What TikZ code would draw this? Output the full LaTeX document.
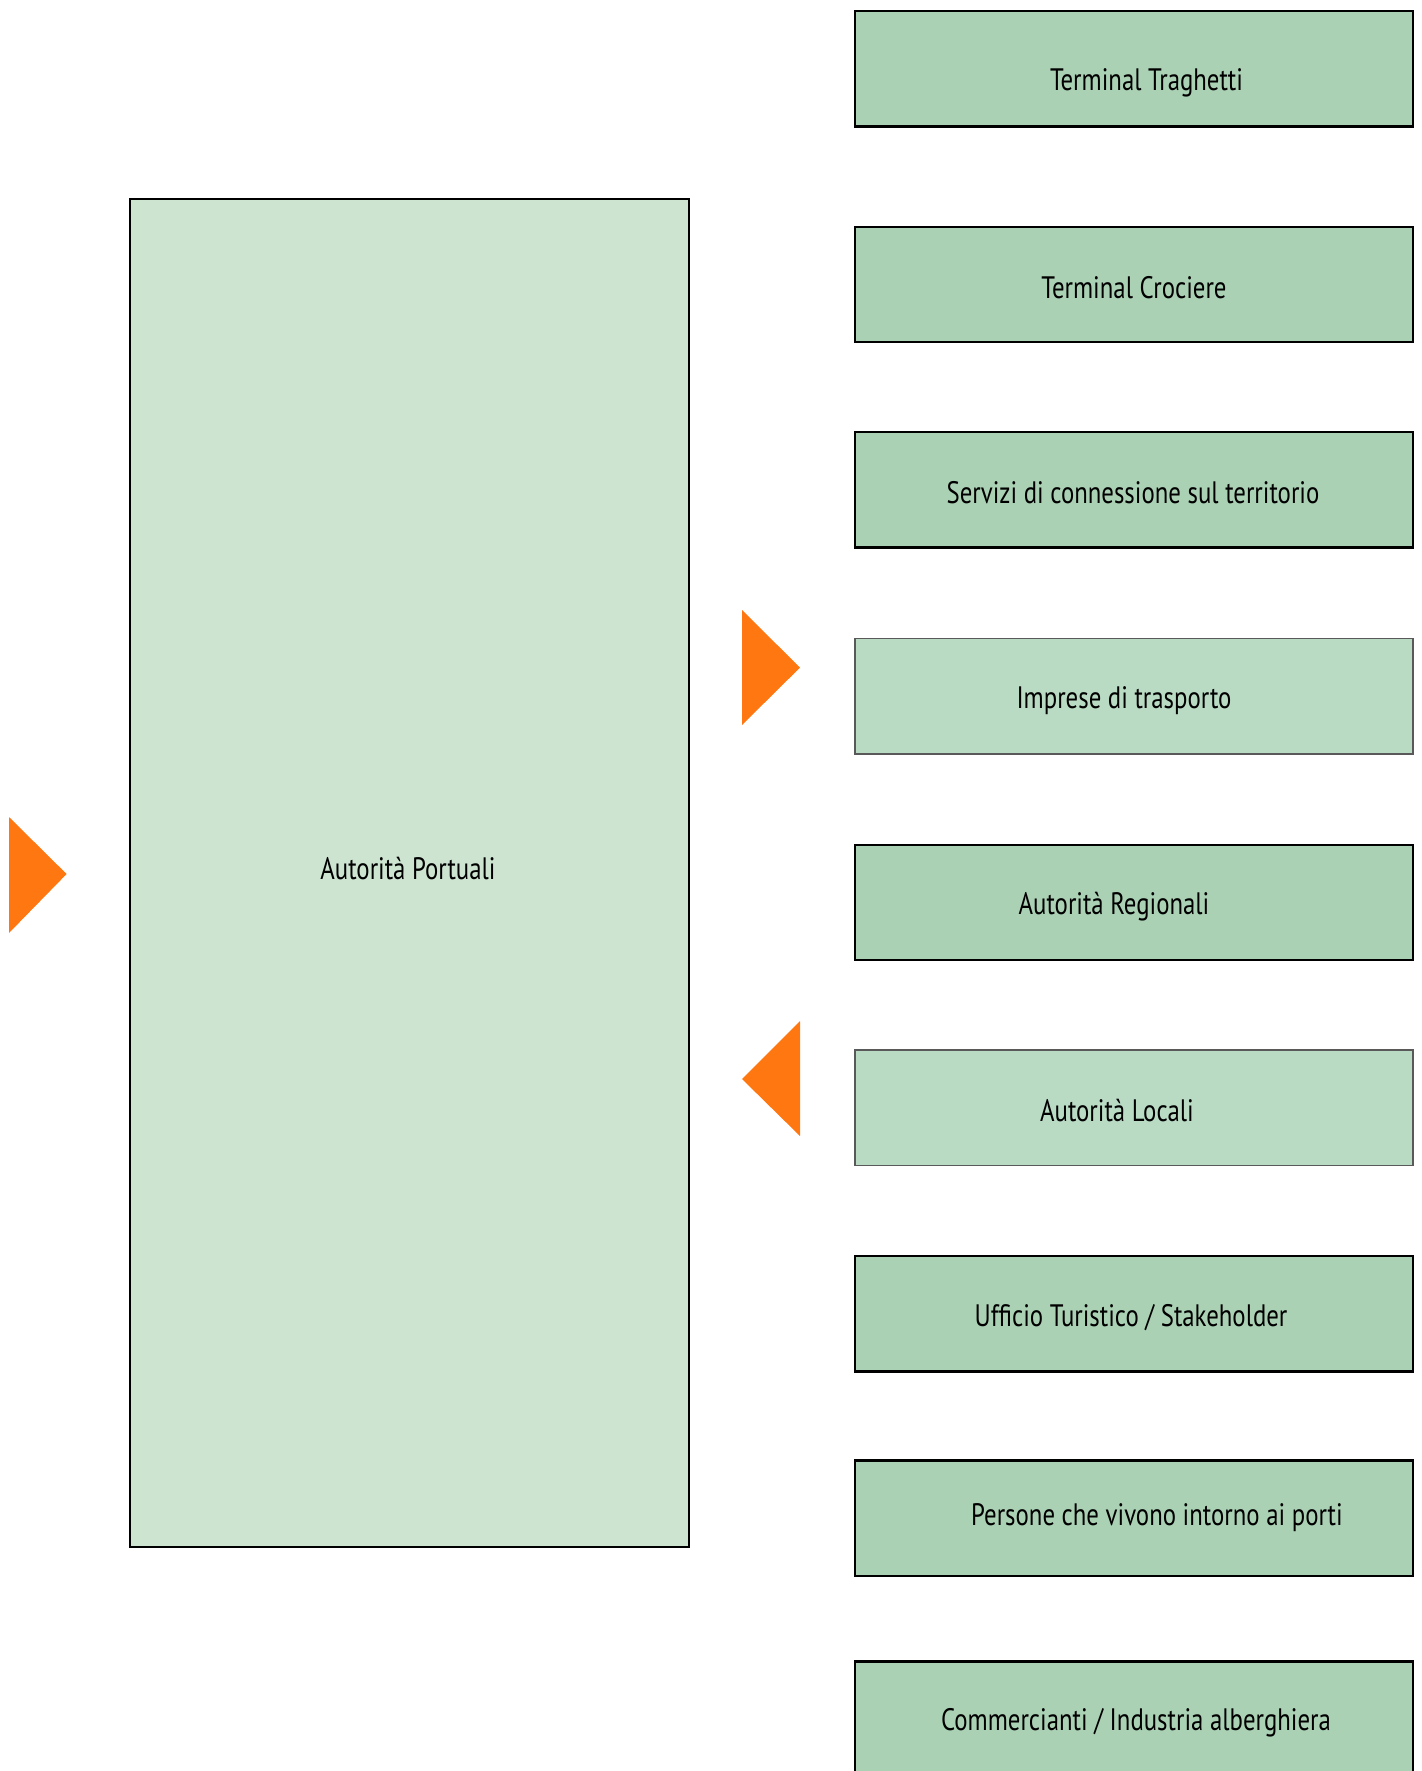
\documentclass[tikz,border=0pt]{standalone}
\usepackage{fontspec}
\setmainfont{PT Sans}[FakeStretch=0.8]
\usetikzlibrary{positioning}

\definecolor{boxgreen}{RGB}{170,209,180}
\definecolor{boxlight}{RGB}{185,219,196}
\definecolor{bigfill}{RGB}{205,228,209}
\definecolor{arroworange}{RGB}{255,119,16}

\tikzset{every picture/.style={line width=1.2pt}}
\tikzset{
  stakebox/.style={draw=black, fill=boxgreen, minimum width=279pt, minimum height=57.7pt, inner sep=0pt},
  lightbox/.style={stakebox, draw=black!65, fill=boxlight, line width=0.7pt},
  bigbox/.style={draw=black, fill=bigfill, minimum width=279.5pt, minimum height=674pt, inner sep=0pt},
  stxt/.style={inner sep=0pt, font=\fontsize{15.5}{17}\selectfont},
  marker/.style={fill=arroworange, draw=none}
}

\begin{document}
\begin{tikzpicture}[x=0.5pt,y=0.5pt,yscale=-1]
\useasboundingbox (0,0) rectangle (1421,1771);

%Shape: Rectangle [Autorita Portuali]
\node[bigbox] (porto) at (409.5,873) {};
% Text Node
\node[stxt] (portotxt) at (408,869) {Autorità Portuali};

%Shapes: Rectangles [stakeholders]
\node[stakebox] (ferry) at (1134,69) {};
\node[stakebox] (cruise) at (1134,284.5) {};
\node[stakebox] (servizi) at (1134,489.7) {};
\node[lightbox] (imprese) at (1134,696.3) {};
\node[stakebox] (regioni) at (1134,902.5) {};
\node[lightbox] (locali) at (1134,1107.6) {};
\node[stakebox] (turismo) at (1134,1313.7) {};
\node[stakebox] (persone) at (1134,1518.2) {};
\node[stakebox] (commercio) at (1134,1719.3) {};

% Text Nodes
\node[stxt] (ferrytxt) at (1146.5,83) {Terminal Traghetti};
\node[stxt] (cruisetxt) at (1134,287.5) {Terminal Crociere};
\node[stxt] (servizitxt) at (1133,493) {Servizi di connessione sul territorio};
\node[stxt] (impresetxt) at (1124,701) {Imprese di trasporto};
\node[stxt] (regionitxt) at (1114,906.5) {Autorità Regionali};
\node[stxt] (localitxt) at (1117,1111) {Autorità Locali};
\node[stxt] (turismotxt) at (1131,1317.5) {Ufficio Turistico / Stakeholder};
\node[stxt] (personetxt) at (1157,1517.5) {Persone che vivono intorno ai porti};
\node[stxt] (commerciotxt) at (1136,1723) {Commercianti / Industria alberghiera};

%Shape: Triangles [orange markers]
\fill[marker] (9,817) -- (66.6,874) -- (9,933) -- cycle;
\fill[marker] (742,610) -- (800,667.6) -- (742,725) -- cycle;
\fill[marker] (800,1021) -- (742,1079) -- (800,1136) -- cycle;

\end{tikzpicture}
\end{document}
